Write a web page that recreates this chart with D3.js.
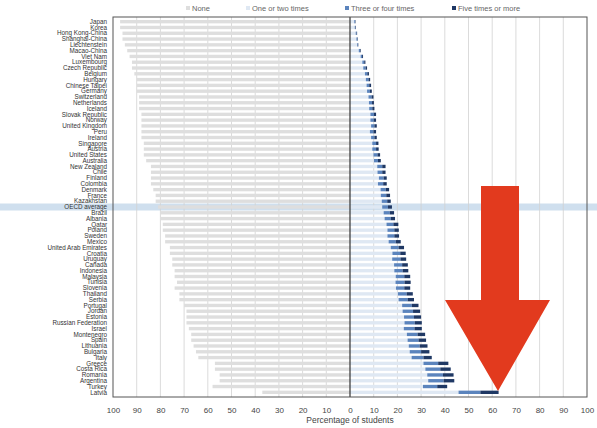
<!DOCTYPE html>
<html><head><meta charset="utf-8">
<script src="https://cdn.jsdelivr.net/npm/d3@7"></script>
<style>body{margin:0;background:#fff}svg{display:block}</style>
</head><body>
<svg id="c" width="597" height="428"></svg>
<script>
const countries = ["Japan","Korea","Hong Kong-China","Shanghai-China","Liechtenstein","Macao-China","Viet Nam","Luxembourg","Czech Republic","Belgium","Hungary","Chinese Taipei","Germany","Switzerland","Netherlands","Iceland","Slovak Republic","Norway","United Kingdom","Peru","Ireland","Singapore","Austria","United States","Australia","New Zealand","Chile","Finland","Colombia","Denmark","France","Kazakhstan","OECD average","Brazil","Albania","Qatar","Poland","Sweden","Mexico","United Arab Emirates","Croatia","Uruguay","Canada","Indonesia","Malaysia","Tunisia","Slovenia","Thailand","Serbia","Portugal","Jordan","Estonia","Russian Federation","Israel","Montenegro","Spain","Lithuania","Bulgaria","Italy","Greece","Costa Rica","Romania","Argentina","Turkey","Latvia"];
const none =     [97,97,96,96,95,94,93,92,92,91,90,90,90,89,89,89,88,88,88,88,88,87,87,87,86,84,84,84,84,83,82,82,81,80,80,79,79,78,78,76,76,75,75,74,74,73,74,72,72,70,69,69,69,68,67,67,66,65,64,57,57,55,55,58,37];
const oneTwo =   [1.8,2.0,2.4,2.7,3.0,3.7,4.5,5.2,5.6,6.3,6.7,7.0,7.2,7.8,8.0,8.1,8.6,8.6,8.9,8.4,8.9,9.4,9.4,9.9,10.1,11.5,11.6,12.2,11.8,12.9,13.0,13.4,13.6,14.2,14.6,15.4,15.8,15.8,16.3,17.2,17.9,17.8,18.6,18.7,19.3,19.2,19.4,20.2,20.5,22.0,22.2,22.8,23.0,22.7,24.0,24.3,24.8,25.2,26.0,31.0,31.8,32.6,33.0,30.8,45.8];
const threeFour =[0.3,0.3,0.4,0.4,0.3,0.5,0.6,0.8,1.0,1.0,1.1,1.1,1.2,1.3,1.3,1.3,1.5,1.4,1.4,1.5,1.4,1.6,1.6,1.7,1.7,2.1,2.0,2.0,2.2,2.2,2.3,2.3,2.4,2.6,2.6,2.9,2.9,2.9,3.0,3.3,3.3,3.5,3.4,3.5,3.6,3.8,3.5,3.7,3.8,4.1,4.4,4.2,4.3,4.5,4.5,4.6,4.6,4.8,5.0,6.2,6.3,6.6,6.5,6.0,9.2];
const fivePlus = [0.2,0.2,0.2,0.2,0.2,0.3,0.4,0.5,0.6,0.7,0.7,0.8,0.8,0.8,0.8,0.9,0.9,1.0,1.0,1.1,1.0,1.0,1.1,1.1,1.2,1.4,1.4,1.3,1.5,1.4,1.6,1.5,1.7,1.8,1.8,2.1,1.9,2.0,2.1,2.3,2.3,2.4,2.4,2.4,2.5,2.6,2.5,2.6,2.7,2.8,3.0,3.0,3.0,3.1,3.2,3.2,3.3,3.5,3.5,4.3,4.4,4.5,4.5,4.2,7.7];
const seriesNames = ["None","One or two times","Three or four times","Five times or more"];
const seriesColors = ["#dedede","#dfe8f3","#5b84bd","#1f3864"];
const tickValues = [-100,-90,-80,-70,-60,-50,-40,-30,-20,-10,0,10,20,30,40,50,60,70,80,90,100];
const highlight = "OECD average";
const axisTitle = "Percentage of students";

const svg = d3.select("#c");
const L = 113, R = 587, T = 17, B = 397;
const x = d3.scaleLinear().domain([-100,100]).range([L,R]);
const y = d3.scaleBand().domain(countries).range([T+3,B-3]).paddingInner(0.42);

// highlight band
svg.append("rect").attr("x",0).attr("width",597)
  .attr("y", y(highlight)+y.bandwidth()/2-3.5).attr("height",7)
  .attr("fill","#cfdfee");

// gridlines
svg.append("g").selectAll("line").data(tickValues.filter(d=>d!==0 && Math.abs(d)!==100)).join("line")
  .attr("x1",d=>x(d)).attr("x2",d=>x(d)).attr("y1",T).attr("y2",B)
  .attr("stroke","#d2d2d2").attr("stroke-width",0.8);

// bars
const rows = countries.map((c,i)=>({c, v:[none[i],oneTwo[i],threeFour[i],fivePlus[i]]}));
const g = svg.append("g");
rows.forEach(r=>{
  g.append("rect").attr("x",x(-r.v[0])).attr("width",x(0)-x(-r.v[0]))
    .attr("y",y(r.c)).attr("height",y.bandwidth()).attr("fill",seriesColors[0]);
  let acc = 0;
  for (let k=1;k<4;k++){
    g.append("rect").attr("x",x(acc)).attr("width",x(acc+r.v[k])-x(acc))
      .attr("y",y(r.c)).attr("height",y.bandwidth()).attr("fill",seriesColors[k]);
    acc += r.v[k];
  }
});

// zero line and frame
svg.append("line").attr("x1",x(0)).attr("x2",x(0)).attr("y1",T).attr("y2",B)
  .attr("stroke","#333").attr("stroke-width",1.2);
svg.append("rect").attr("x",L).attr("y",T).attr("width",R-L).attr("height",B-T)
  .attr("fill","none").attr("stroke","#555").attr("stroke-width",1);

// country labels
svg.append("g").selectAll("text").data(countries).join("text")
  .attr("x",L-6).attr("y",d=>y(d)+y.bandwidth()/2).attr("dy","0.35em")
  .attr("text-anchor","end").attr("font-family","Liberation Sans, Arial, sans-serif")
  .attr("font-size",6.3).attr("fill","#333").text(d=>d);

// x axis
const ax = svg.append("g").attr("transform",`translate(0,${B+7})`)
  .call(d3.axisBottom(x).tickValues(tickValues).tickFormat(d=>Math.abs(d)).tickSize(0));
ax.select(".domain").remove();
ax.selectAll("text").attr("font-family","Liberation Sans, Arial, sans-serif").attr("font-size",8).attr("fill","#444");
svg.append("text").attr("x",x(0)).attr("y",423).attr("text-anchor","middle")
  .attr("font-family","Liberation Sans, Arial, sans-serif").attr("font-size",8.5).attr("fill","#444").text(axisTitle);

// legend
const legX = [186,246,345,452];
const leg = svg.append("g").selectAll("g").data(seriesNames).join("g")
  .attr("transform",(d,i)=>`translate(${legX[i]},9)`);
leg.append("rect").attr("x",0).attr("y",-3).attr("width",4).attr("height",4)
  .attr("fill",(d,i)=>seriesColors[i]);
leg.append("text").attr("x",6).attr("y",0).attr("dy","0.3em")
  .attr("font-family","Liberation Sans, Arial, sans-serif").attr("font-size",7.5).attr("fill","#666").text(d=>d);

// red arrow annotation
svg.append("path")
  .attr("d","M481,186 L519,186 L519,300 L550,300 L498,391 L445,300 L481,300 Z")
  .attr("fill","#e23a1e");
</script>
</body></html>
